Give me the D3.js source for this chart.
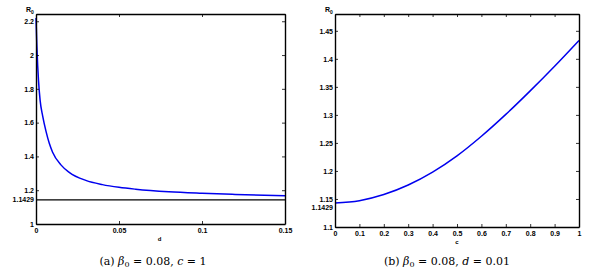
<!DOCTYPE html>
<html>
<head>
<meta charset="utf-8">
<script src="https://cdn.jsdelivr.net/npm/d3@7"></script>
<style>
  body { margin: 0; background: #fff; }
  svg { display: block; }
  .tick text { font-family: 'Liberation Sans', Arial, sans-serif; font-size: 7px; font-weight: bold; fill: #000; }
  .domain { stroke: #000; stroke-width: 1.4; }
  .tick line { stroke: #000; stroke-width: 0.8; }
  .lbl { font-family: 'Liberation Sans', Arial, sans-serif; font-weight: bold; fill: #000; }
  .cap { font-family: 'DejaVu Serif', serif; font-size: 11px; fill: #000; }
</style>
</head>
<body>
<svg id="chart" width="606" height="274"></svg>
<script>
// (a) R0 against d, c = 1
var dValues = [0, 0.0005, 0.001, 0.0015, 0.0025, 0.004, 0.006, 0.008, 0.01, 0.015, 0.02, 0.03, 0.04, 0.05, 0.06, 0.08, 0.1, 0.12, 0.15];
var r0ByD = [2.22, 2.06, 1.94, 1.85, 1.73, 1.64, 1.55, 1.478, 1.425, 1.35, 1.306, 1.258, 1.233, 1.217, 1.206, 1.191, 1.182, 1.175, 1.167];
var dTicks = [0, 0.05, 0.1, 0.15];
var dTickLabels = ["0", "0.05", "0.1", "0.15"];
var r0TicksA = [1, 1.2, 1.4, 1.6, 1.8, 2, 2.2];
var r0TickLabelsA = ["1", "1.2", "1.4", "1.6", "1.8", "2", "2.2"];

// (b) R0 against c, d = 0.01
var cValues = [0, 0.1, 0.2, 0.3, 0.4, 0.5, 0.6, 0.7, 0.8, 0.9, 1];
var r0ByC = [1.1429, 1.1469, 1.1579, 1.1749, 1.1979, 1.2269, 1.2619, 1.3009, 1.3429, 1.3869, 1.4329];
var cTicks = [0, 0.1, 0.2, 0.3, 0.4, 0.5, 0.6, 0.7, 0.8, 0.9, 1];
var cTickLabels = ["0", "0.1", "0.2", "0.3", "0.4", "0.5", "0.6", "0.7", "0.8", "0.9", "1"];
var r0TicksB = [1.1, 1.15, 1.2, 1.25, 1.3, 1.35, 1.4, 1.45];
var r0TickLabelsB = ["1.1", "1.15", "1.2", "1.25", "1.3", "1.35", "1.4", "1.45"];

var threshold = 1.1429;

var svg = d3.select("#chart");

var drawPanel = function(p) {
  var w = p.right - p.left;
  var h = p.bottom - p.top;
  var g = svg.append("g").attr("transform", "translate(" + p.left + "," + p.top + ")");
  var x = d3.scaleLinear().domain(p.xDomain).range([0, w]);
  var y = d3.scaleLinear().domain(p.yDomain).range([h, 0]);

  // curve first, box on top
  var line = d3.line()
    .x(function(d) { return x(d[0]); })
    .y(function(d) { return y(d[1]); })
    .curve(d3.curveMonotoneX);
  g.append("path")
    .datum(d3.zip(p.xs, p.ys))
    .attr("d", line)
    .attr("fill", "none")
    .attr("stroke", "#0000ee")
    .attr("stroke-width", 1.5);

  if (p.hline) {
    g.append("line")
      .attr("x1", 0).attr("x2", w)
      .attr("y1", y(threshold)).attr("y2", y(threshold))
      .attr("stroke", "#000")
      .attr("stroke-width", 1.4);
  }

  g.append("g").attr("transform", "translate(0," + h + ")")
    .call(d3.axisBottom(x).tickValues(p.xTicks).tickSize(-3).tickSizeOuter(0).tickPadding(4)
      .tickFormat(function(d, i) { return p.xTickLabels[i]; }));
  g.append("g")
    .call(d3.axisTop(x).tickValues(p.xTicks).tickSize(-3).tickSizeOuter(0).tickFormat(""));
  g.append("g")
    .call(d3.axisLeft(y).tickValues(p.yTicks).tickSize(-3).tickSizeOuter(0).tickPadding(2)
      .tickFormat(function(d, i) { return p.yTickLabels[i]; }));
  g.append("g").attr("transform", "translate(" + w + ",0)")
    .call(d3.axisRight(y).tickValues(p.yTicks).tickSize(-3).tickSizeOuter(0).tickFormat(""));

  // extra label for the threshold value
  g.append("text")
    .attr("class", "lbl")
    .attr("x", -2)
    .attr("y", y(threshold) + p.thresholdShift)
    .attr("dy", "0.32em")
    .attr("text-anchor", "end")
    .attr("font-size", 7)
    .text("1.1429");

  // R0 label
  var r = g.append("text")
    .attr("class", "lbl")
    .attr("x", -10).attr("y", -2)
    .attr("font-size", 7);
  r.append("tspan").text("R");
  r.append("tspan").attr("font-size", 5).attr("dy", 2).text("0");

  // x axis name
  g.append("text")
    .attr("class", "lbl")
    .attr("x", x(p.xNamePos)).attr("y", h + 17)
    .attr("text-anchor", "middle")
    .attr("font-size", 6)
    .text(p.xName);

  // caption
  var cap = svg.append("text")
    .attr("class", "cap")
    .attr("x", p.capX).attr("y", 265)
    .attr("text-anchor", "middle");
  cap.append("tspan").text(p.capLabel + " ");
  cap.append("tspan").style("font-style", "italic").text("\u03B2");
  cap.append("tspan").style("font-size", "8px").attr("dy", 2).text("0");
  cap.append("tspan").attr("dy", -2).text(" = 0.08,  ");
  cap.append("tspan").style("font-style", "italic").text(p.capVar);
  cap.append("tspan").text(" = " + p.capVal);
};

drawPanel({
  left: 36, right: 285, top: 14, bottom: 224,
  xDomain: [0, 0.15], yDomain: [1, 2.243],
  xs: dValues, ys: r0ByD,
  xTicks: dTicks, xTickLabels: dTickLabels,
  yTicks: r0TicksA, yTickLabels: r0TickLabelsA,
  hline: true, thresholdShift: 0,
  xName: "d", xNamePos: 0.0745,
  capX: 153, capLabel: "(a)", capVar: "c", capVal: "1"
});

drawPanel({
  left: 335, right: 579, top: 14, bottom: 227,
  xDomain: [0, 1], yDomain: [1.1, 1.48],
  xs: cValues, ys: r0ByC,
  xTicks: cTicks, xTickLabels: cTickLabels,
  yTicks: r0TicksB, yTickLabels: r0TickLabelsB,
  hline: false, thresholdShift: 5,
  xName: "c", xNamePos: 0.5,
  capX: 447, capLabel: "(b)", capVar: "d", capVal: "0.01"
});
</script>
</body>
</html>
